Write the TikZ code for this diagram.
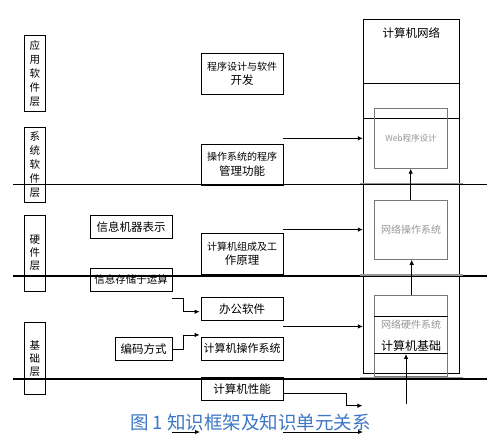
\documentclass[tikz,border=0pt]{standalone}
\usepackage{fontspec}
\setmainfont{Noto Sans CJK SC}
\usetikzlibrary{arrows.meta,calc,positioning}
\definecolor{capblue}{RGB}{60,118,196}
\definecolor{ghost}{RGB}{150,150,150}
\newcommand\smalltxt{\fontsize{10}{14}\selectfont}
\newcommand\bigtxt{\fontsize{11.5}{14}\selectfont}

\begin{document}
\begin{tikzpicture}[x=1pt,y=-1pt,
    box/.style={draw, line width=0.8pt, inner sep=0pt, align=center, font=\bigtxt},
    layer/.style={box, minimum width=21pt, font=\fontsize{10.5}{14}\selectfont},
    midbox/.style={box, minimum width=82pt},
    inbox/.style={draw=ghost!80!black, line width=0.9pt, minimum width=73.4pt, inner sep=0pt},
    sep/.style={line width=1.8pt},
    grayline/.style={draw=ghost, line width=1.5pt},
    arr/.style={-{Latex[length=5pt,width=4.5pt]}, line width=0.8pt},
    thickarr/.style={arr, line width=1.4pt}]
    \useasboundingbox (0,0) rectangle (487,435);
    \node[layer, minimum height=75.7pt](app)at(34.8,73.2){应\\用\\软\\件\\层};
    \node[layer, minimum height=74.7pt](sys)at(34.8,164.6){系\\统\\软\\件\\层};
    \node[layer, minimum height=75.7pt, font=\fontsize{10.5}{13}\selectfont](hw)at(34.8,253.2){硬\\件\\层};
    \node[layer, minimum height=71.7pt, font=\fontsize{10.5}{13}\selectfont](base)at(34.8,358.2){基\\础\\层};
    \node[midbox, minimum height=41pt](prog)at(242,73.5){\smalltxt 程序设计与软件\\\bigtxt 开发};
    \node[midbox, minimum height=41pt](osmgmt)at(242,164.5){\smalltxt 操作系统的程序\\[1pt]\bigtxt 管理功能};
    \node[midbox, minimum height=41pt](organ)at(242,253.8){\smalltxt 计算机组成及工\\\bigtxt 作原理};
    \node[midbox, minimum height=22.7pt](office)at(242,308.7){办公软件};
    \node[midbox, minimum height=22.7pt, font=\fontsize{11}{13}\selectfont](compos)at(242,348.7){计算机操作系统};
    \node[midbox, minimum height=23pt](perf)at(242,388.8){计算机性能};
    \node[midbox, minimum height=23pt](repr)at(131,226.8){信息机器表示};
    \node[midbox, minimum height=22.7pt, font=\fontsize{10.5}{13}\selectfont](store)at(131,279.7){信息存储于运算};
    \node[box, minimum width=56.7pt, minimum height=22.7pt](code)at(143.7,348.7){编码方式};
    \node[draw, line width=0.8pt, minimum width=96pt, minimum height=354pt](net)at(411.3,196.3){};
    \node[font=\bigtxt](nettitle)at(411.3,33){计算机网络};
    \draw[line width=0.8pt] ($(net.north west)+(0,65)$) -- ($(net.north east)+(0,65)$);
    \draw[line width=0.8pt] ($(net.north west)+(0,100)$) -- ($(net.north east)+(0,100)$);
    \draw[line width=1.3pt] (net.south west) -- (net.south east);
    \node[inbox, minimum height=60pt, font=\fontsize{8.5}{10}\selectfont, text=ghost](web)at(411,138.3){Web程序设计};
    \node[inbox, minimum height=59.3pt, font=\smalltxt, text=ghost](netos)at(411,229.7){网络操作系统};
    \node[inbox, minimum height=81.7pt](basic)at(411,335.9){};
    \draw[line width=0.8pt] ($(basic.north west)+(0,22.3)$) coordinate(bl1) -- ($(basic.north east)+(0,22.3)$);
    \draw[line width=0.8pt] ($(basic.north west)+(0,59.3)$) coordinate(bl2) -- ($(basic.north east)+(0,59.3)$) coordinate(bl2e);
    \node[font=\smalltxt, text=ghost](nethw)at(411,325){网络硬件系统};
    \node[font=\fontsize{12}{14}\selectfont](cbase)at(411,345.7){计算机基础};
    % layer lines
    \coordinate(lfirst)at(13,184);
    \coordinate(lsecond)at(13,276);
    \coordinate(lthird)at(13,379);
    \draw[line width=0.9pt] (lfirst) -- (487,184);
    \draw[sep] (lsecond) -- (487,276);
    \draw[sep] (lthird) -- (487,379);
    \draw[grayline] (360,183.3) -- (463,183.3);
    \draw[grayline] (360,275) -- (463,275);
    \draw[grayline] (360,377.7) -- (463,377.7);
    % arrows into the network box
    \coordinate(s1)at($(osmgmt.north east)+(0,-5.3)$);
    \coordinate(s2)at($(organ.north east)+(0,-3.3)$);
    \coordinate(s3)at($(office.south east)+(0,6)$);
    \draw[thickarr] (s1) -- (net.west |- s1);
    \draw[thickarr] (s2) -- (net.west |- s2);
    \draw[arr] (s3) -- (net.west |- s3);
    \draw[arr] ($(basic.north)+(0.7,0)$) -- ($(netos.south)+(0.7,0)$);
    \draw[arr] ($(netos.north)+(-0.3,0)$) -- ($(web.south)+(-0.3,0)$);
    \coordinate(s4)at(406,404);
    \draw[arr, line width=1pt] (s4) -- (s4 |- bl2);
    % elbow connectors
    \coordinate(e1)at($(store.south east)+(0,7.3)$);
    \draw[arr] (e1) -- ++(11,0) |- ($(office.west)+(-1,3)$);
    \draw[arr] ($(code.east)+(0,0.3)$) -- ++(11,0) |- ($(compos.north west)+(-1,-2)$);
    \draw[arr] ($(perf.east)+(0,4.5)$) -- ++(63,0) |- ($(net.west |- perf)+(-0.5,16.9)$);
    \coordinate(b1)at(172,432);
    \coordinate(b2)at(283,432);
    \draw[arr, line width=1pt] (b1) -- (200,432);
    \draw[arr, line width=1pt] (b2) -- (363,432);
    \node[font=\fontsize{18.5}{20}\selectfont, text=capblue](caption)at(250.5,422){图 1 知识框架及知识单元关系};
\end{tikzpicture}
\end{document}
